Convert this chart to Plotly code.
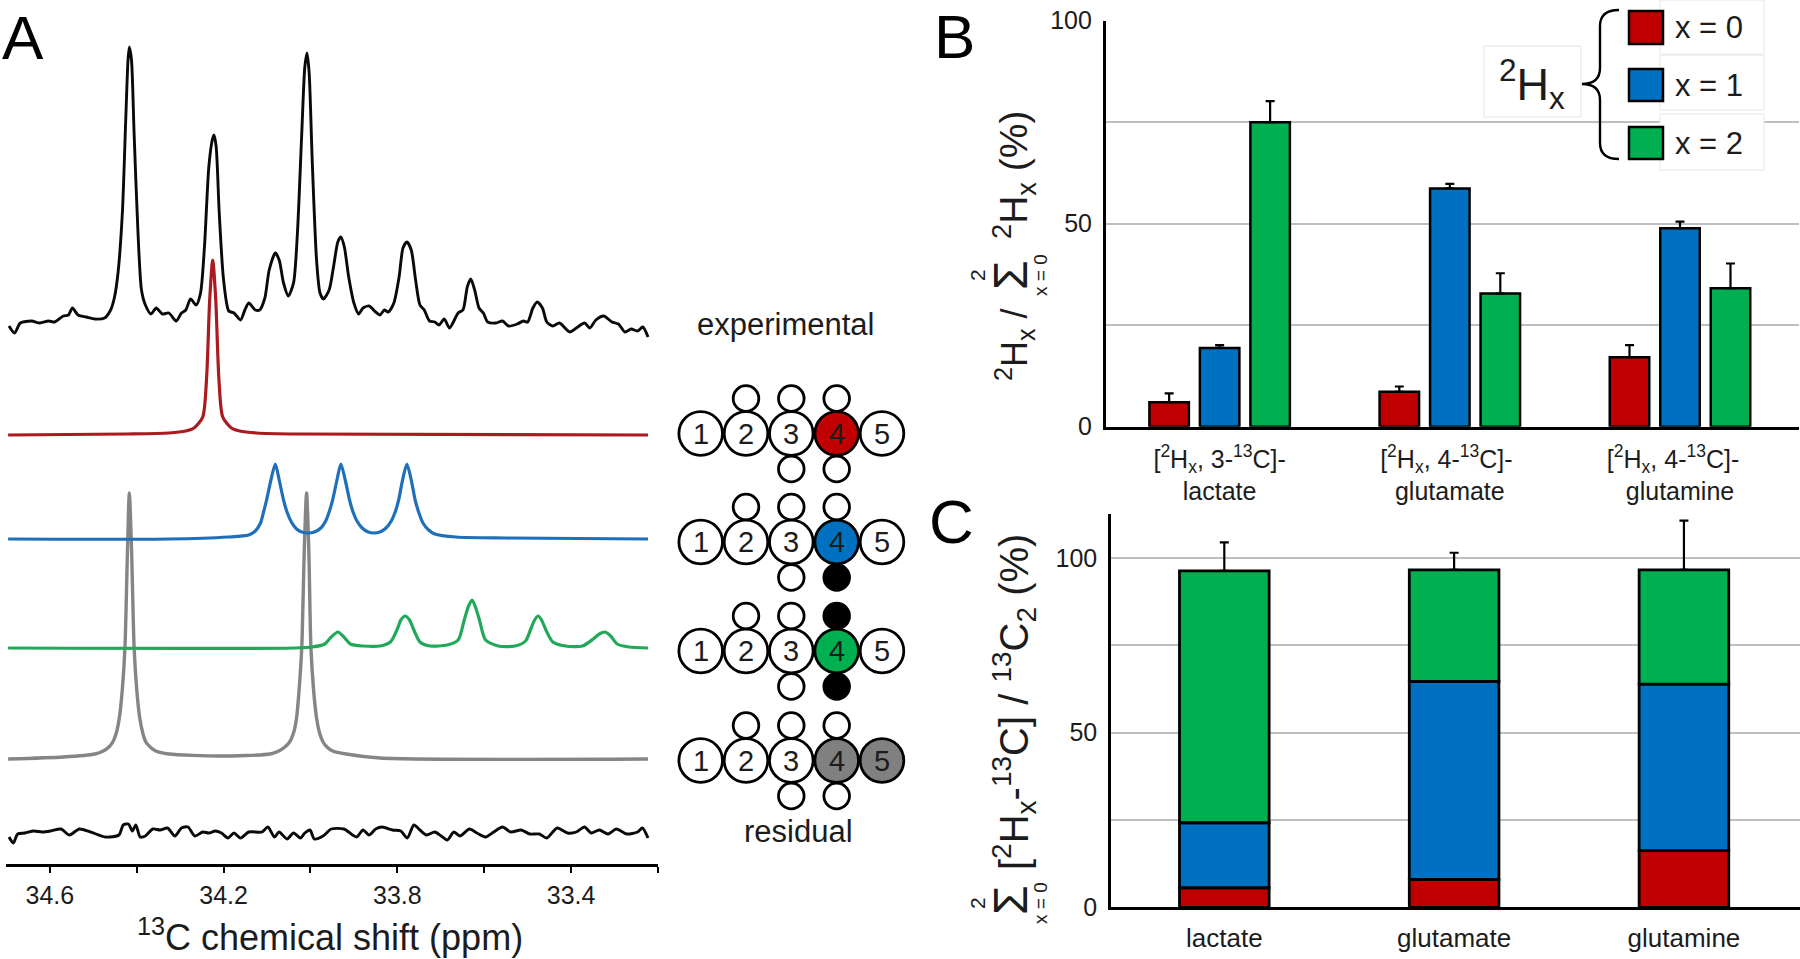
import plotly.graph_objects as go

W, H = 1800, 959
FONT = "Liberation Sans"
INK = "#1c1c1c"

# ---------- Panel A: spectra (ppm, intensity in arbitrary units) ----------
ppm_ticks = [34.6, 34.4, 34.2, 34.0, 33.8, 33.6, 33.4, 33.2]
ppm_tick_text = ["34.6", "", "34.2", "", "33.8", "", "33.4", ""]

exp_ppm = [34.694,34.681,34.668,34.642,34.623,34.603,34.589,34.569,34.557,34.548,34.535,34.516,34.496,34.474,34.460,34.451,34.443,34.433,34.425,34.420,34.417,34.412,34.406,34.397,34.389,34.380,34.367,34.355,34.341,34.326,34.309,34.297,34.287,34.276,34.263,34.253,34.244,34.234,34.226,34.222,34.217,34.210,34.200,34.188,34.176,34.161,34.151,34.142,34.127,34.117,34.105,34.095,34.081,34.072,34.062,34.051,34.039,34.030,34.020,34.013,34.008,34.003,33.996,33.986,33.978,33.970,33.957,33.947,33.937,33.930,33.922,33.912,33.900,33.889,33.879,33.865,33.850,33.840,33.830,33.821,33.808,33.796,33.787,33.778,33.768,33.758,33.748,33.738,33.726,33.714,33.704,33.692,33.680,33.660,33.649,33.639,33.631,33.622,33.612,33.602,33.592,33.573,33.558,33.544,33.524,33.510,33.500,33.488,33.478,33.466,33.456,33.442,33.427,33.403,33.388,33.369,33.357,33.343,33.325,33.306,33.291,33.276,33.262,33.247,33.235,33.223]
exp_int = [538,531,541,543,541,543,542,548,549,556,549,547,545,546,554,567,591,651,747,804,817,804,731,631,574,559,550,556,550,551,543,551,554,565,559,571,617,697,724,729,717,651,584,553,551,544,554,561,554,554,566,594,611,604,581,568,581,631,731,797,811,791,704,604,571,565,574,597,622,627,617,587,561,550,556,558,552,549,554,552,561,587,616,622,614,584,559,554,543,542,539,545,536,551,554,577,585,574,556,551,542,541,543,538,540,543,542,556,562,556,542,538,541,532,536,541,536,544,548,542,540,532,535,533,537,527]

red_ppm = [34.696,34.423,34.326,34.287,34.268,34.248,34.239,34.232,34.225,34.218,34.211,34.202,34.182,34.163,34.124,34.027,33.223]
red_int = [429,430,431,433,436,447,487,564,604,564,487,447,436,433,431,430,429]

blue_ppm = [34.696,34.326,34.190,34.142,34.127,34.115,34.108,34.101,34.091,34.081,34.072,34.062,34.054,34.044,34.032,34.020,34.005,33.991,33.976,33.965,33.957,33.949,33.939,33.930,33.920,33.910,33.902,33.893,33.881,33.867,33.854,33.840,33.826,33.814,33.805,33.797,33.788,33.778,33.768,33.759,33.751,33.741,33.728,33.714,33.665,33.549,33.223]
blue_int = [325,325,327,329,333,341,352,364,384,400,384,364,352,342,335,332,331,332,336,343,352,364,384,400,384,364,352,343,336,332,331,332,336,343,352,364,384,400,384,364,352,341,334,330,327,326,325]

green_ppm = [34.696,34.035,33.996,33.967,33.952,33.937,33.923,33.908,33.879,33.840,33.816,33.799,33.792,33.782,33.772,33.762,33.748,33.724,33.685,33.660,33.646,33.636,33.628,33.621,33.611,33.597,33.568,33.529,33.505,33.492,33.484,33.476,33.468,33.458,33.442,33.413,33.374,33.349,33.335,33.322,33.309,33.294,33.267,33.223]
green_int = [216,216,217,220,227,232,227,220,218,218,222,236,244,248,244,234,222,218,219,224,244,258,264,258,244,224,218,218,223,236,244,248,244,234,222,218,218,225,230,232,228,220,217,216]

gray_ppm = [34.696,34.569,34.496,34.477,34.464,34.455,34.447,34.440,34.433,34.427,34.421,34.417,34.412,34.406,34.400,34.393,34.386,34.379,34.369,34.356,34.326,34.210,34.093,34.073,34.059,34.048,34.039,34.032,34.026,34.020,34.014,34.009,34.004,33.999,33.993,33.986,33.979,33.971,33.962,33.949,33.918,33.840,33.223]
gray_int = [105,107,110,113,117,122,131,146,175,217,317,371,317,217,175,146,131,122,117,113,110,108,110,113,117,122,131,146,175,217,317,371,317,217,175,146,131,122,117,113,110,106,105]

res_ppm = [34.694,34.684,34.674,34.657,34.637,34.618,34.598,34.574,34.555,34.532,34.506,34.472,34.441,34.431,34.419,34.410,34.402,34.392,34.380,34.363,34.346,34.329,34.312,34.297,34.282,34.266,34.248,34.234,34.219,34.205,34.190,34.176,34.161,34.142,34.112,34.098,34.083,34.072,34.054,34.039,34.023,34.013,34.001,33.991,33.971,33.952,33.923,33.894,33.879,33.865,33.850,33.835,33.811,33.792,33.777,33.762,33.748,33.733,33.714,33.699,33.685,33.670,33.656,33.634,33.617,33.597,33.578,33.558,33.539,33.515,33.495,33.473,33.456,33.432,33.408,33.388,33.369,33.354,33.335,33.315,33.296,33.272,33.247,33.236,33.223]
res_int = [27,21,30,31,33,32,33,35,29,35,32,27,29,39,40,33,39,27,28,35,34,36,28,36,37,28,32,31,33,31,26,31,26,32,32,37,27,32,25,31,26,31,34,25,28,35,35,27,34,29,35,37,34,33,26,39,34,29,32,28,24,32,28,35,31,27,32,37,32,34,30,30,26,36,31,32,37,31,34,30,35,30,32,36,26]

# ---------- Panel B ----------
b_categories = ["[<sup>2</sup>H<sub>x</sub>, 3-<sup>13</sup>C]-<br>lactate",
                "[<sup>2</sup>H<sub>x</sub>, 4-<sup>13</sup>C]- <br>glutamate",
                "[<sup>2</sup>H<sub>x</sub>, 4-<sup>13</sup>C]-  <br>glutamine"]
b_x0 = [6.0, 8.6, 17.1]
b_x1 = [19.4, 58.7, 48.9]
b_x2 = [75.0, 32.8, 34.1]
b_err0 = [2.2, 1.3, 3.0]
b_err1 = [0.7, 1.1, 1.6]
b_err2 = [5.2, 5.0, 6.1]

# ---------- Panel C ----------
c_categories = ["lactate", "glutamate", "glutamine"]
c_x0 = [5.6, 8.0, 16.2]
c_x1 = [18.6, 56.7, 47.7]
c_x2 = [72.1, 31.9, 32.7]
c_err = [8.2, 4.9, 14.1]

percent_ticks = [0, 25, 50, 75, 100]
percent_text = ["0", "", "50", "", "100"]

RED, BLUE, GREEN, GRAY = "#c00000", "#0070c0", "#00b050", "#808080"


def px(x):
    return x / W


def py(y):
    return 1 - y / H


fig = go.Figure()

# spectra
for xs, ys, col, wd in [
    (gray_ppm, gray_int, "#858585", 3.4),
    (green_ppm, green_int, "#22a85a", 3.2),
    (blue_ppm, blue_int, "#1f70b8", 3.2),
    (exp_ppm, exp_int, "#0a0a0a", 2.9),
    (red_ppm, red_int, "#ab1a1f", 3.2),
    (res_ppm, res_int, "#0a0a0a", 2.9),
]:
    fig.add_trace(go.Scatter(x=xs, y=ys, mode="lines", xaxis="x", yaxis="y",
                             line=dict(color=col, width=wd, shape="spline", smoothing=0.7),
                             showlegend=False, hoverinfo="skip"))

# panel B bars
bw = 39.5 / 230.2
step = 50.5 / 230.2
for vals, errs, col, k in [(b_x0, b_err0, RED, -1), (b_x1, b_err1, BLUE, 0), (b_x2, b_err2, GREEN, 1)]:
    fig.add_trace(go.Bar(x=b_categories, y=vals, xaxis="x2", yaxis="y2",
                         width=bw, offset=k * step - bw / 2,
                         marker=dict(color=col, line=dict(color="black", width=2.5)),
                         error_y=dict(type="data", symmetric=False, array=errs,
                                      arrayminus=[0, 0, 0], color="black", thickness=2.2, width=4.5),
                         showlegend=False, hoverinfo="skip"))

# panel C stacked bars
c_base1 = [a for a in c_x0]
c_base2 = [a + b for a, b in zip(c_x0, c_x1)]
for vals, base, col, errs in [(c_x0, [0, 0, 0], RED, None), (c_x1, c_base1, BLUE, None), (c_x2, c_base2, GREEN, c_err)]:
    err = dict(type="data", symmetric=False, array=errs, arrayminus=[0, 0, 0],
               color="black", thickness=2.2, width=4.5) if errs else None
    fig.add_trace(go.Bar(x=c_categories, y=vals, base=base, xaxis="x3", yaxis="y3", width=0.39,
                         marker=dict(color=col, line=dict(color="black", width=2.8)),
                         error_y=err, showlegend=False, hoverinfo="skip"))

shapes = []
annotations = []


def text(s, x, y, size, angle=0, color=INK):
    annotations.append(dict(text=s, x=px(x), y=py(y), xref="paper", yref="paper",
                            xanchor="center", yanchor="middle", showarrow=False,
                            textangle=angle, font=dict(family=FONT, size=size, color=color)))


def box(x0, y0, x1, y1, fill, line=None, lw=1):
    shapes.append(dict(type="rect", xref="paper", yref="paper", x0=px(x0), x1=px(x1),
                       y0=py(y1), y1=py(y0), fillcolor=fill,
                       line=dict(color=line or fill, width=lw if line else 0)))


def circle(cx, cy, r, fill):
    shapes.append(dict(type="circle", xref="paper", yref="paper", x0=px(cx - r), x1=px(cx + r),
                       y0=py(cy + r), y1=py(cy - r), fillcolor=fill,
                       line=dict(color="black", width=2.8)))


# molecule diagrams
carbon_x = [700.7, 746, 791.3, 836.7, 882]
row_y = [433.5, 542, 651, 760.5]
row_fill = [{3: RED}, {3: BLUE}, {3: GREEN}, {3: GRAY, 4: GRAY}]
row_black = [[], ["b"], ["t", "b"], []]
for yc, fills, blacks in zip(row_y, row_fill, row_black):
    for i in (1, 2, 3):
        f = "black" if (i == 3 and "t" in blacks) else "white"
        circle(carbon_x[i], yc - 35, 12.8, f)
    for i in (2, 3):
        f = "black" if (i == 3 and "b" in blacks) else "white"
        circle(carbon_x[i], yc + 35.5, 12.8, f)
    for i in range(5):
        circle(carbon_x[i], yc, 21.8, fills.get(i, "white"))
        text(str(i + 1), carbon_x[i], yc, 29)

text("experimental", 785, 325, 31)
text("residual", 798, 831, 31)
text("<sup>13</sup>C chemical shift (ppm)", 330, 935, 36)

# panel letters
text("A", 23, 38, 62, color="black")
text("B", 954, 37, 62, color="black")
text("C", 952, 521, 62, color="black")

# panel B legend
box(1599, 0, 1764, 55, "white")
box(1660, 0, 1764, 54, "white", "#e8e8e8")
box(1660, 55, 1764, 110, "white", "#e8e8e8")
box(1660, 114, 1764, 170, "white", "#e8e8e8")
box(1484, 46, 1581, 117, "white", "#e4e4e4")
for y0, y1, col, lab in [(11, 44, RED, "x = 0"), (69, 101, BLUE, "x = 1"), (127, 159, GREEN, "x = 2")]:
    box(1629, y0, 1663, y1, col, "black", 2.5)
    text(lab, 1709, (y0 + y1) / 2, 31)
text("<sup>2</sup>H<sub>x</sub>", 1532, 84, 45)


def P(a, b):
    return f"{px(a):.5f},{py(b):.5f}"


brace_path = (f"M {P(1619, 10)} Q {P(1600, 10)} {P(1600, 26)} L {P(1600, 68)} "
              f"Q {P(1600, 84)} {P(1582, 84)} Q {P(1600, 84)} {P(1600, 100)} "
              f"L {P(1600, 143)} Q {P(1600, 159)} {P(1619, 159)}")
shapes.append(dict(type="path", xref="paper", yref="paper", path=brace_path,
                   line=dict(color="black", width=2.4)))

# axis titles B
text("<sup>2</sup>H<sub>x</sub> /", 1014, 345, 36, -90)
text("Σ", 1010, 275, 48, -90)
text("2", 977, 275, 21, -90)
text("x = 0", 1040, 275, 19, -90)
text("<sup>2</sup>H<sub>x</sub> (%)", 1014, 175, 39, -90)

# axis titles C
text("[<sup>2</sup>H<sub>x</sub>-<sup>13</sup>C] / <sup>13</sup>C<sub>2</sub> (%)", 1014, 702, 40, -90)
text("Σ", 1010, 900, 48, -90)
text("2", 977, 903, 21, -90)
text("x = 0", 1040, 903, 19, -90)

grid = dict(showgrid=True, gridcolor="#bfbfbf", gridwidth=2, zeroline=False, automargin=False,
            showline=True, linecolor="black", linewidth=2.5, ticks="", ticklabelstandoff=6,
            tickfont=dict(family=FONT, size=25, color=INK), tickmode="array",
            tickvals=percent_ticks, ticktext=percent_text)
cat = dict(showgrid=False, zeroline=False, showline=True, linecolor="black", linewidth=3.2,
           automargin=False, ticks="", tickfont=dict(family=FONT, size=25, color=INK))

fig.update_layout(
    template="none",
    width=W, height=H, autosize=False, margin=dict(l=0, r=0, t=0, b=0, autoexpand=False),
    paper_bgcolor="white", plot_bgcolor="white", barmode="overlay",
    font=dict(family=FONT, color=INK), showlegend=False,
    xaxis=dict(domain=[px(5.5), px(658)], range=[34.702, 33.2], showgrid=False, zeroline=False,
               automargin=False,
               showline=True, linecolor="black", linewidth=2.6, ticks="outside", ticklen=6,
               tickwidth=2, tickcolor="black", tickmode="array", tickvals=ppm_ticks,
               ticktext=ppm_tick_text, ticklabelstandoff=1,
               tickfont=dict(family=FONT, size=25, color=INK), anchor="y"),
    yaxis=dict(domain=[py(864), 1], range=[0, 864], visible=False, anchor="x", automargin=False),
    xaxis2=dict(domain=[px(1105.7), px(1799)], range=[-0.495, 2.517], anchor="y2",
                ticklabelstandoff=8, **cat),
    yaxis2=dict(domain=[py(426.7), py(20.7)], range=[0, 100], anchor="x2", **grid),
    xaxis3=dict(domain=[px(1111), 1], range=[-0.493, 2.505], anchor="y3",
                ticklabelstandoff=5, **{**cat, "tickfont": dict(family=FONT, size=26, color=INK)}),
    yaxis3=dict(domain=[py(907.3), py(514)], range=[0, 112.6], anchor="x3", **grid),
    shapes=shapes, annotations=annotations,
)

fig.write_html("out.html", config={"displayModeBar": False},
               post_script="document.body.style.margin='0';document.body.style.overflow='hidden';")
